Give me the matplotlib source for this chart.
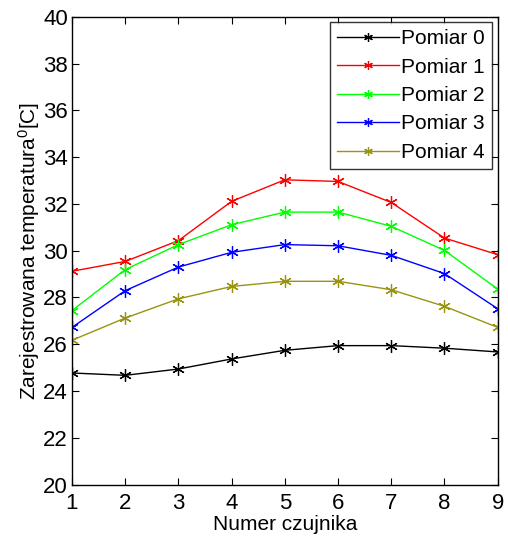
import matplotlib
matplotlib.use("Agg")
import matplotlib.pyplot as plt

plt.rcParams['font.family'] = ['Liberation Sans', 'DejaVu Sans']
plt.rcParams['mathtext.fontset'] = 'custom'
plt.rcParams['mathtext.rm'] = 'Liberation Sans'
plt.rcParams['mathtext.it'] = 'Liberation Sans'

# sensor numbers and recorded temperatures for each measurement
czujniki = [1, 2, 3, 4, 5, 6, 7, 8, 9]
pomiar_0 = [24.77, 24.67, 24.94, 25.37, 25.74, 25.94, 25.94, 25.83, 25.67]
pomiar_1 = [29.12, 29.54, 30.43, 32.11, 33.03, 32.96, 32.06, 30.54, 29.83]
pomiar_2 = [27.44, 29.19, 30.26, 31.11, 31.65, 31.65, 31.04, 30.01, 28.36]
pomiar_3 = [26.72, 28.29, 29.30, 29.93, 30.26, 30.21, 29.80, 29.02, 27.52]
pomiar_4 = [26.17, 27.12, 27.94, 28.47, 28.69, 28.69, 28.33, 27.62, 26.72]
etykiety = ['Pomiar 0', 'Pomiar 1', 'Pomiar 2', 'Pomiar 3', 'Pomiar 4']
kolory = ['black', 'red', '#00ff00', 'blue', '#999410']

fig = plt.figure(figsize=(5.08, 5.42), dpi=100)
ax = fig.add_axes([0.1417, 0.106, 0.838, 0.863])

# asterisk markers like MATLAB's '*'
gwiazdka = (6, 2, 0)
serie = [pomiar_0, pomiar_1, pomiar_2, pomiar_3, pomiar_4]
for dane, kolor, nazwa in zip(serie, kolory, etykiety):
    ax.plot(czujniki, dane, color=kolor, marker=gwiazdka, markersize=9,
            markeredgewidth=0.9, linewidth=1.0, label=nazwa)

ax.set_xlim(1, 9)
ax.set_ylim(20, 40)
ax.set_xticks(czujniki)
ax.set_yticks(range(20, 41, 2))
ax.tick_params(direction='in', top=True, right=True, labelsize=16,
               length=5, width=0.8)
ax.tick_params(axis='x', pad=6)
ax.tick_params(axis='y', pad=3)
for s in ax.spines.values():
    s.set_linewidth(1.0)

ax.set_xlabel('Numer czujnika', fontsize=15, labelpad=1)
ax.set_ylabel('Zarejestrowana temperatura$^0$[C]', fontsize=15, labelpad=1)

leg = ax.legend(loc='upper right', fontsize=15, frameon=True, fancybox=False,
                edgecolor='black', handlelength=3.0, handletextpad=0.1,
                borderpad=0.35, labelspacing=0.45, borderaxespad=0.25,
                markerscale=0.7)
leg.get_frame().set_linewidth(1.0)

fig.savefig('out.png', dpi=100)
